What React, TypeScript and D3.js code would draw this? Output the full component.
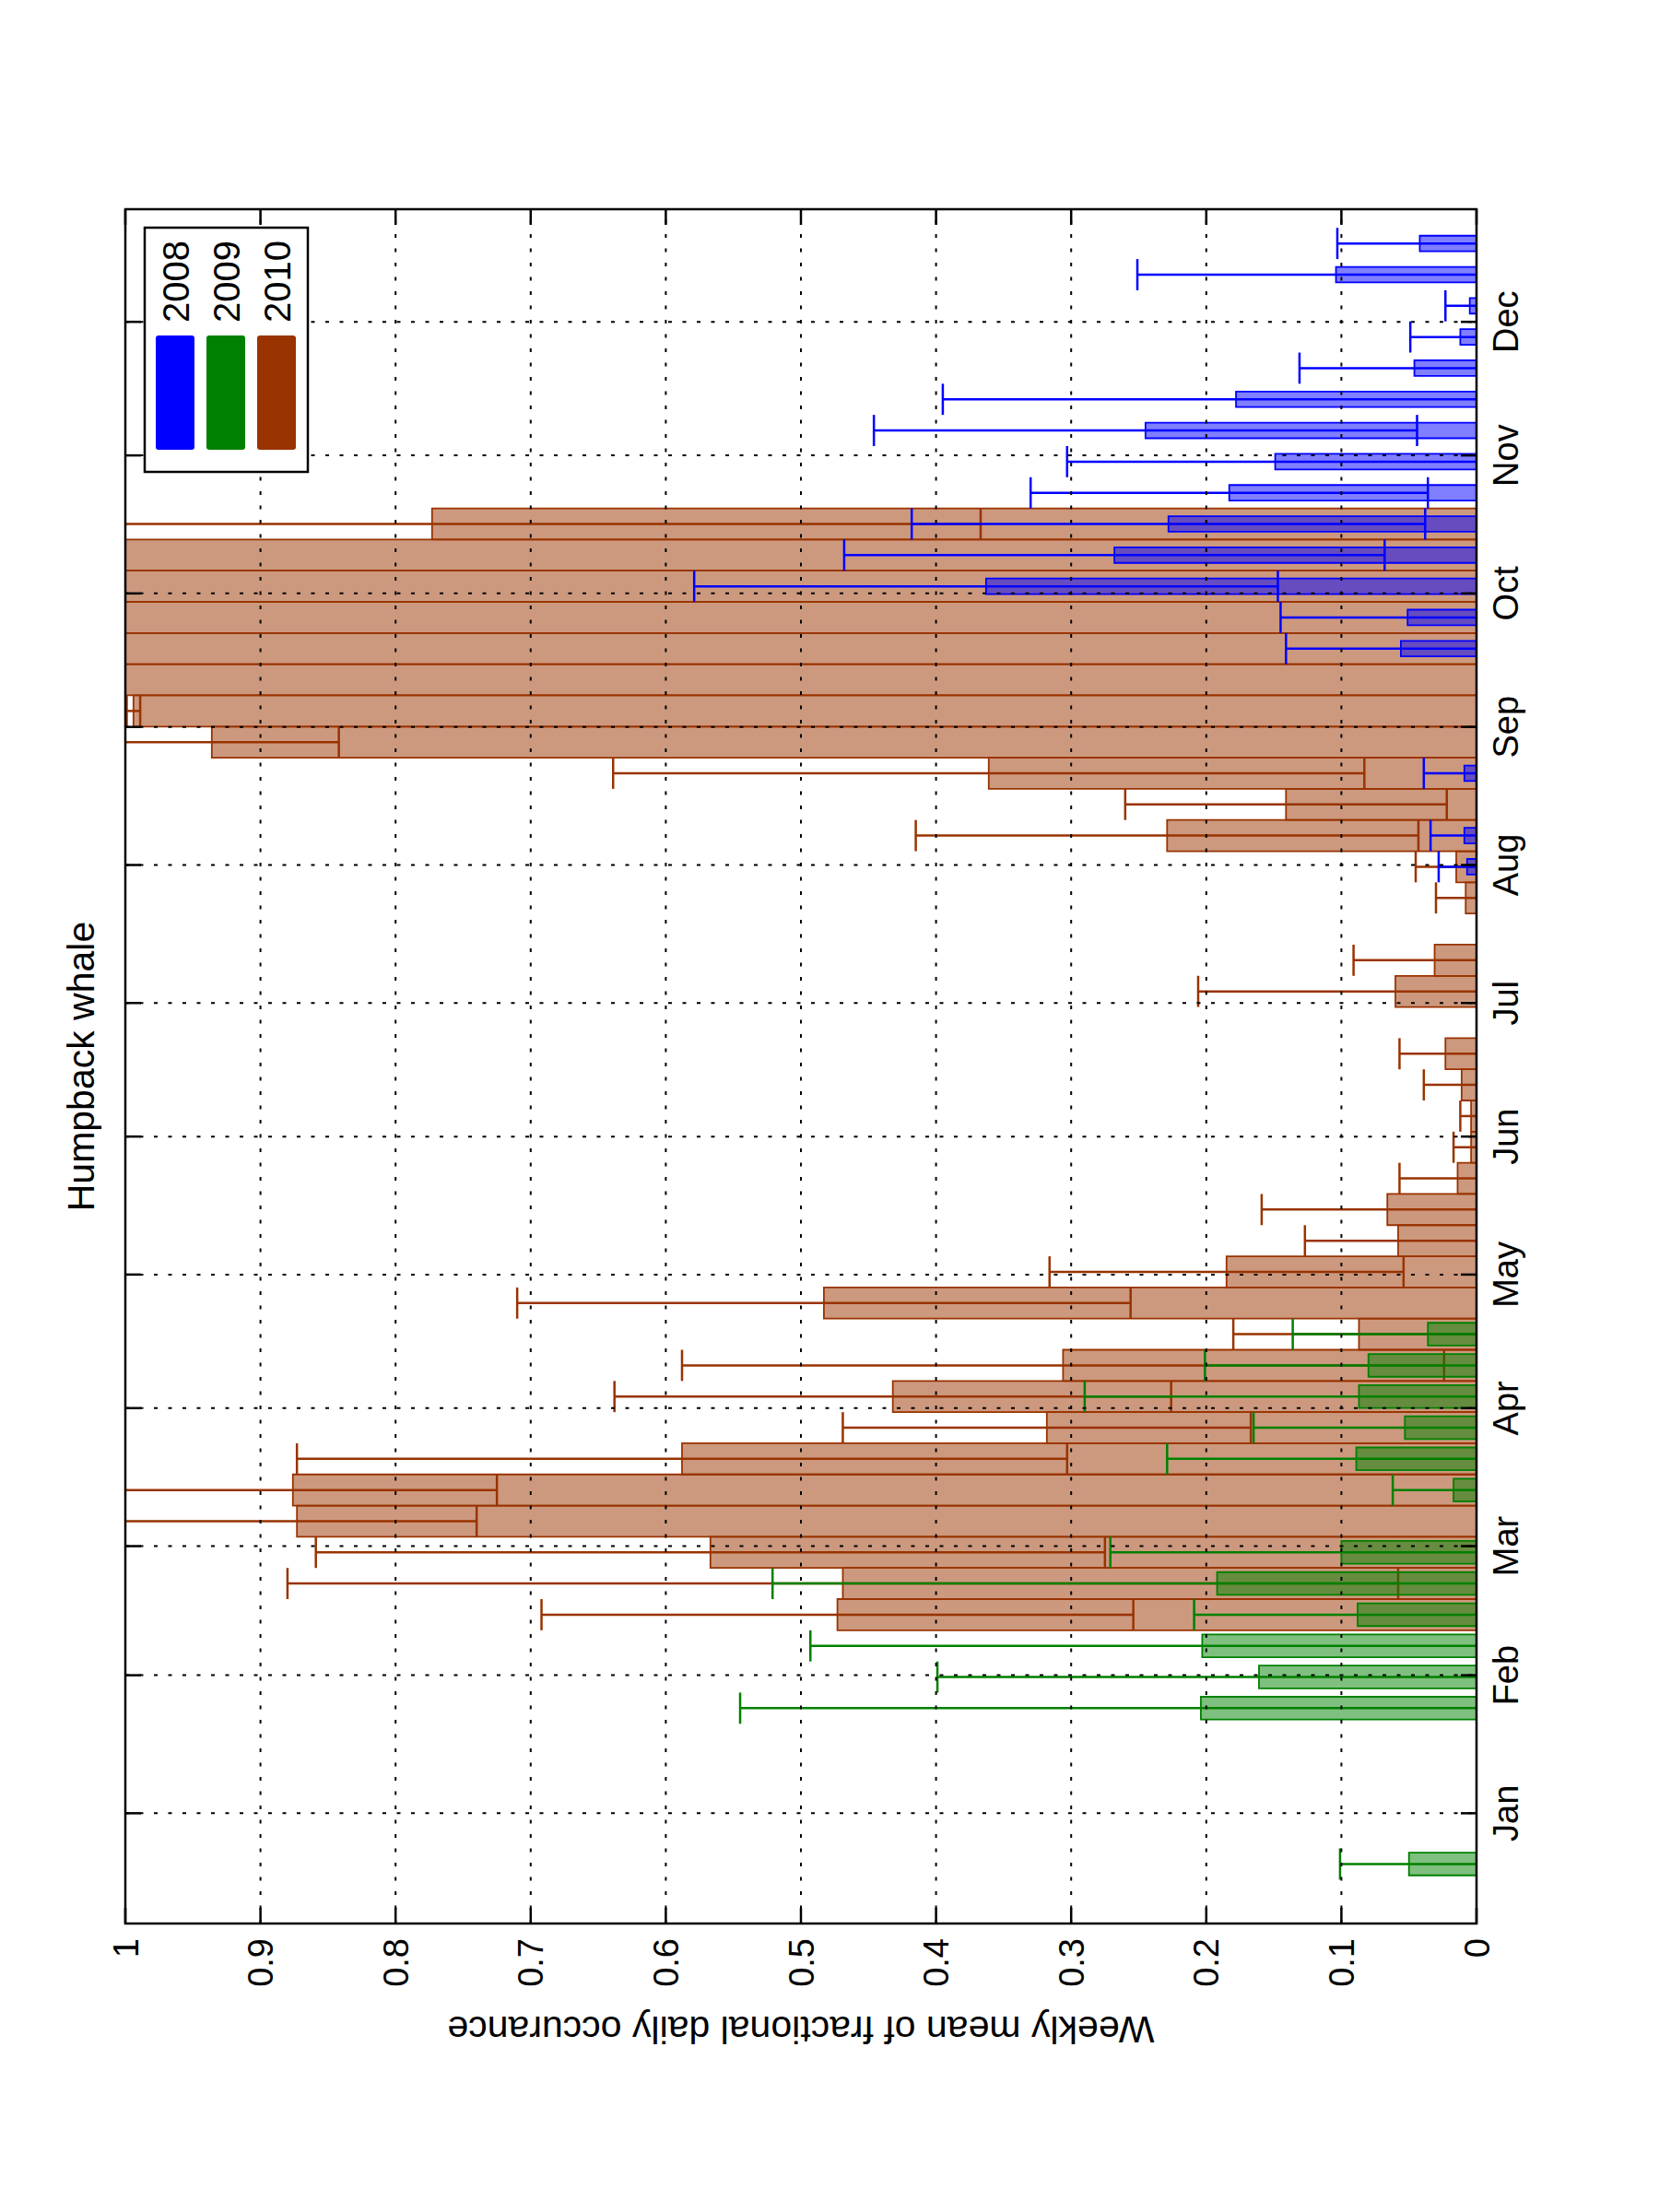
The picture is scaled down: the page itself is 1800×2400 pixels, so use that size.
import { useMemo } from "react";
import * as d3 from "d3";

const WIDTH = 1800;
const HEIGHT = 2400;
// The figure is a landscape MATLAB plot turned a quarter turn to the left,
// so it is drawn landscape inside a rotated group.
const FRAME = { left: 136, top: 227, right: 1602, bottom: 2087 };
const PLOT_W = FRAME.bottom - FRAME.top; // week axis
const PLOT_H = FRAME.right - FRAME.left; // value axis

const WEEK_DOMAIN: [number, number] = [-1.91, 53.1];
const WEEK0_DAY = -11.4; // day of year where week 0 sits
const FONT = "'Liberation Sans', Arial, Helvetica, sans-serif";

const MONTHS = ["Jan", "Feb", "Mar", "Apr", "May", "Jun", "Jul", "Aug", "Sep", "Oct", "Nov", "Dec"];
const MONTH_START_DAY = [0, 31, 60, 91, 121, 152, 182, 213, 244, 274, 305, 335];
const VALUE_TICKS = [0, 0.1, 0.2, 0.3, 0.4, 0.5, 0.6, 0.7, 0.8, 0.9, 1];
const VALUE_LABELS = ["0", "0.1", "0.2", "0.3", "0.4", "0.5", "0.6", "0.7", "0.8", "0.9", "1"];

const WEEKS = d3.range(0, 53);

// 2008
const MEAN_2008 = [
    null, null, null, null, null, null, null, null, null, null,
    null, null, null, null, null, null, null, null, null, null,
    null, null, null, null, null, null, null, null, null, null,
    0, 0, 0.007, 0.009, 0, 0.009, null, null, null, 0.056,
    0.051, 0.363, 0.268, 0.228, 0.183, 0.149, 0.245, 0.178, 0.046, 0.012,
    0.005, 0.104, 0.042,
];
const SD_2008 = [
    null, null, null, null, null, null, null, null, null, null,
    null, null, null, null, null, null, null, null, null, null,
    null, null, null, null, null, null, null, null, null, null,
    0, 0, 0.021, 0.025, 0, 0.03, null, null, null, 0.085,
    0.094, 0.216, 0.2, 0.19, 0.147, 0.154, 0.201, 0.217, 0.085, 0.037,
    0.018, 0.147, 0.061,
];

// 2009
const MEAN_2009 = [
    0.05, null, null, null, 0, 0.204, 0.161, 0.203, 0.088, 0.192,
    0.1, 0, 0.017, 0.089, 0.053, 0.087, 0.08, 0.036, null, null,
    null, null, null, null, null, null, null, null, null, null,
    null, null, null, null, null, null, null, null, null, null,
    null, null, null, null, 0, 0, 0, 0, 0, 0,
    0, 0, 0,
];
const SD_2009 = [
    0.051, null, null, null, 0, 0.341, 0.238, 0.29, 0.121, 0.329,
    0.171, 0, 0.045, 0.14, 0.112, 0.203, 0.121, 0.1, null, null,
    null, null, null, null, null, null, null, null, null, null,
    null, null, null, null, null, null, null, null, null, null,
    null, null, null, null, 0, 0, 0, 0, 0, 0,
    0, 0, 0,
];

// 2010
const MEAN_2010 = [
    0, null, null, null, null, null, null, null, 0.473, 0.469,
    0.567, 0.873, 0.876, 0.588, 0.318, 0.432, 0.306, 0.087, 0.483, 0.185,
    0.058, 0.066, 0.014, 0.004, 0.004, 0.011, 0.023, null, 0.06, 0.031,
    null, 0.008, 0.015, 0.229, 0.141, 0.361, 0.936, 0.994, 1, 1,
    1, 1, 1, 0.773, null, null, null, null, null, null,
    null, null, null,
];
const SD_2010 = [
    0, null, null, null, null, null, null, null, 0.219, 0.411,
    0.292, 0.133, 0.151, 0.285, 0.151, 0.206, 0.282, 0.093, 0.227, 0.131,
    0.069, 0.093, 0.043, 0.013, 0.008, 0.028, 0.034, null, 0.146, 0.06,
    null, 0.022, 0.03, 0.186, 0.119, 0.278, 0.094, 0.005, 0, 0,
    0, 0, 0, 0.406, null, null, null, null, null, null,
    null, null, null,
];

type Series = {
    year: string;
    color: string;
    barWidth: number;
    mean: (number | null)[];
    sd: (number | null)[];
};

// drawing order: 2010 at the back, then 2008, then 2009
const SERIES: Series[] = [
    { year: "2010", color: "#993300", barWidth: 1, mean: MEAN_2010, sd: SD_2010 },
    { year: "2008", color: "#0000ff", barWidth: 0.5, mean: MEAN_2008, sd: SD_2008 },
    { year: "2009", color: "#008000", barWidth: 0.73, mean: MEAN_2009, sd: SD_2009 },
];
const LEGEND = ["2008", "2009", "2010"];
const LEGEND_COLORS = ["#0000ff", "#008000", "#993300"];

const TICK_FONT = 38;
const LABEL_FONT = 41;
const TICK_LEN = 17;

export default function App() {
    const xScale = useMemo(() => d3.scaleLinear().domain(WEEK_DOMAIN).range([0, PLOT_W]), []);
    const yScale = useMemo(() => d3.scaleLinear().domain([0, 1]).range([PLOT_H, 0]), []);
    const weekPx = xScale(1) - xScale(0);
    const monthWeek = MONTH_START_DAY.map((d) => (d - WEEK0_DAY) / 7);

    const bars = SERIES.map((s) => (
        <g key={s.year}>
            {WEEKS.map((w) => {
                const m = s.mean[w];
                if (m === null) return null;
                const x0 = xScale(w - s.barWidth / 2);
                const x1 = xScale(w + s.barWidth / 2);
                const y = yScale(m);
                return (
                    <path
                        key={"b" + w}
                        d={`M${x0},${PLOT_H}L${x0},${y}L${x1},${y}L${x1},${PLOT_H}Z`}
                        fill={s.color}
                        fillOpacity={0.5}
                        stroke={s.color}
                        strokeWidth={1.8}
                    />
                );
            })}
            {WEEKS.map((w) => {
                const m = s.mean[w];
                const sd = s.sd[w];
                if (m === null || sd === null || sd === 0) return null;
                const cx = xScale(w);
                const lo = yScale(m - sd);
                const hi = yScale(m + sd);
                const half = weekPx / 2;
                return (
                    <g key={"e" + w} stroke={s.color} strokeWidth={2.5}>
                        <line x1={cx} x2={cx} y1={lo} y2={hi} />
                        <line x1={cx - half} x2={cx + half} y1={lo} y2={lo} />
                        <line x1={cx - half} x2={cx + half} y1={hi} y2={hi} />
                    </g>
                );
            })}
        </g>
    ));

    const grid = (
        <g stroke="#000" strokeWidth={2} strokeDasharray="4 11.5">
            {VALUE_TICKS.slice(1, -1).map((v) => (
                <line key={"v" + v} x1={0} x2={PLOT_W} y1={yScale(v)} y2={yScale(v)} />
            ))}
            {monthWeek.map((w, i) => (
                <line key={"m" + i} x1={xScale(w)} x2={xScale(w)} y1={0} y2={PLOT_H} />
            ))}
        </g>
    );

    const ticks = (
        <g stroke="#000" strokeWidth={2.5}>
            {VALUE_TICKS.map((v) => (
                <g key={"tv" + v}>
                    <line x1={0} x2={TICK_LEN} y1={yScale(v)} y2={yScale(v)} />
                    <line x1={PLOT_W - TICK_LEN} x2={PLOT_W} y1={yScale(v)} y2={yScale(v)} />
                </g>
            ))}
            {monthWeek.map((w, i) => (
                <g key={"tm" + i}>
                    <line x1={xScale(w)} x2={xScale(w)} y1={PLOT_H} y2={PLOT_H - TICK_LEN} />
                    <line x1={xScale(w)} x2={xScale(w)} y1={0} y2={TICK_LEN} />
                </g>
            ))}
        </g>
    );

    // legend sits in the upper right of the landscape plot
    const legendX = PLOT_W - 20 - 265;
    const legendY = 21;
    const legend = (
        <g transform={`translate(${legendX},${legendY})`}>
            <rect x={0} y={0} width={265} height={177} fill="#fff" stroke="#000" strokeWidth={2.5} />
            {LEGEND.map((year, i) => {
                const cy = 33 + i * 55;
                return (
                    <g key={year}>
                        <rect x={24} y={cy - 21} width={124} height={42} rx={3} fill={LEGEND_COLORS[i]} />
                        <text x={162} y={cy + 14.5} fontSize={40} fontFamily={FONT} fill="#000">
                            {year}
                        </text>
                    </g>
                );
            })}
        </g>
    );

    return (
        <svg
            width={WIDTH}
            height={HEIGHT}
            style={{ position: "absolute", left: 0, top: 0, background: "#fff" }}
        >
            <rect x={0} y={0} width={WIDTH} height={HEIGHT} fill="#fff" />
            <defs>
                <clipPath id="plot-area">
                    <rect x={0} y={0} width={PLOT_W} height={PLOT_H} />
                </clipPath>
            </defs>
            <g transform={`translate(${FRAME.left},${FRAME.bottom}) rotate(-90)`}>
                <g clipPath="url(#plot-area)">
                    {bars}
                    {grid}
                </g>
                {ticks}
                <rect x={0} y={0} width={PLOT_W} height={PLOT_H} fill="none" stroke="#000" strokeWidth={2.5} />
                {legend}

                {VALUE_TICKS.map((v, i) => (
                    <text
                        key={"lv" + v}
                        x={-16}
                        y={yScale(v) + TICK_FONT * 0.36}
                        textAnchor="end"
                        fontSize={TICK_FONT}
                        fontFamily={FONT}
                    >
                        {VALUE_LABELS[i]}
                    </text>
                ))}
                {monthWeek.map((w, i) => (
                    <text
                        key={"lm" + i}
                        x={xScale(w)}
                        y={PLOT_H + 18 + TICK_FONT * 0.72}
                        textAnchor="middle"
                        fontSize={TICK_FONT}
                        fontFamily={FONT}
                    >
                        {MONTHS[i]}
                    </text>
                ))}

                <text
                    x={PLOT_W / 2}
                    y={-34}
                    textAnchor="middle"
                    fontSize={LABEL_FONT}
                    fontFamily={FONT}
                >
                    Humpback whale
                </text>
                <text
                    transform={`translate(-101,${PLOT_H / 2}) rotate(-90)`}
                    textAnchor="middle"
                    fontSize={LABEL_FONT}
                    fontFamily={FONT}
                >
                    Weekly mean of fractional daily occurance
                </text>
            </g>
        </svg>
    );
}
